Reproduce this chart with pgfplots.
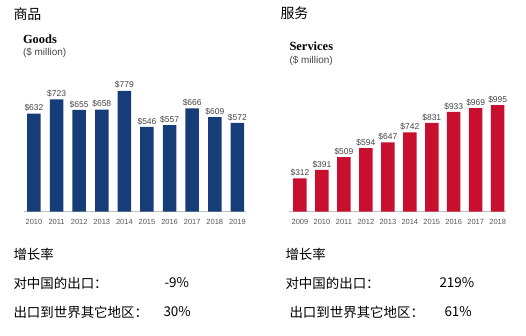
\documentclass[border=0pt]{standalone}
\usepackage{pgfplots}
\pgfplotsset{compat=1.18}
\usepackage{fontspec}
\setmainfont{Liberation Sans}
\newfontfamily\serifb{Liberation Serif}
\newfontfamily\cjk{Noto Sans CJK SC}
\definecolor{navy}{HTML}{163D78}
\definecolor{crim}{HTML}{C8102E}
\definecolor{lblgray}{HTML}{444444}
\definecolor{tickgray}{HTML}{555555}
\pgfplotsset{
  barchart/.style={
    scale only axis,
    axis x line*=bottom,
    hide y axis,
    ymin=0,
    axis line style={draw=black!25, line width=0.8pt},
    xtick=data,
    xtick style={draw=none},
    ybar, 
    bar width=13.5bp,
    ticklabel style={font=\fontsize{7.5}{8}\selectfont, text=tickgray},
    /pgf/number format/assume math mode=true,
    nodes near coords={\$\pgfmathprintnumber{\pgfplotspointmeta}},
    every node near coord/.append style={font=\fontsize{8.5}{9}\selectfont, text=lblgray, inner sep=2pt},
    clip=false,
  }
}
\begin{document}
\begin{tikzpicture}[x=1bp,y=1bp]
\path (0,0) rectangle (526,335);
% Goods
\node[anchor=west, font=\cjk\fontsize{14}{15}\selectfont] at (10,321) {商品};
\node[anchor=west, font=\serifb\bfseries\fontsize{12.5}{13}\selectfont] at (19.5,296) {Goods};
\node[anchor=west, font=\fontsize{10}{11}\selectfont, text=lblgray] at (19.5,282) {(\$ million)};
\begin{axis}[barchart, at={(24bp,123.5bp)}, anchor=south west,
  width=222bp, height=139.5bp, ymax=900, xmin=-0.44, xmax=9.38,
  xticklabels={2010,2011,2012,2013,2014,2015,2016,2017,2018,2019}]
\addplot[fill=navy, draw=none] coordinates {(0,632) (1,723) (2,655) (3,658) (4,779) (5,546) (6,557) (7,666) (8,609) (9,572)};
\end{axis}
% Services
\node[anchor=west, font=\cjk\fontsize{14}{15}\selectfont] at (277,322) {服务};
\node[anchor=west, font=\serifb\bfseries\fontsize{12.5}{13}\selectfont] at (286,289) {Services};
\node[anchor=west, font=\fontsize{10}{11}\selectfont, text=lblgray] at (286,274) {(\$ million)};
\begin{axis}[barchart, at={(289bp,123.3bp)}, anchor=south west,
  width=217bp, height=117.7bp, ymax=1100, xmin=-0.5, xmax=9.38,
  xticklabels={2009,2010,2011,2012,2013,2014,2015,2016,2017,2018}]
\addplot[fill=crim, draw=none] coordinates {(0,312) (1,391) (2,509) (3,594) (4,647) (5,742) (6,831) (7,933) (8,969) (9,995)};
\end{axis}
% bottom text
\begin{scope}[every node/.style={anchor=west, font=\cjk\fontsize{13.5}{14}\selectfont}]
\node at (10,81) {增长率};
\node at (10,52) {对中国的出口：};
\node at (161,52) {-9\%};
\node at (10,23) {出口到世界其它地区：};
\node at (160,23) {30\%};
\node at (282,81) {增长率};
\node at (282,52) {对中国的出口：};
\node at (436,52) {219\%};
\node at (286,23) {出口到世界其它地区：};
\node at (441,23) {61\%};
\end{scope}
\end{tikzpicture}
\end{document}
